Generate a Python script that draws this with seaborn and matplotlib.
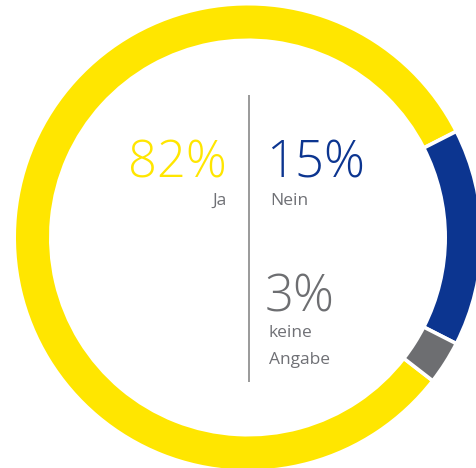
import matplotlib
matplotlib.use("Agg")
import matplotlib.pyplot as plt
import seaborn as sns

# survey answers (percent)
labels = ["Ja", "Nein", "keine\nAngabe"]
values = [82, 15, 3]
colors = ["#FFE600", "#0C3590", "#6D6E71"]
label_grey = "#6F7075"

sns.set_theme(style="white")
plt.rcParams['font.family'] = ['Open Sans', 'DejaVu Sans']

W, H = 476, 468
cx, cy = 248, 237.5          # ring centre, pixels from top-left
r_out, r_in = 232, 199
lw = 2.6                     # white gap between segments (pt)
pad = lw * 100 / 72 / 2


def pos(x, y):
    # pixel position -> data coordinates (centre of ring = 0, 0)
    return x - cx, cy - y


fig = plt.figure(figsize=(W / 100, H / 100), dpi=100)
ax = fig.add_axes([0, 0, 1, 1])

# keep "Nein" centred on the right-hand side
start = 360 * (values[1] / 2 + values[0]) / sum(values)
ax.pie(values, colors=colors, radius=r_out + pad, startangle=start,
       counterclock=False,
       wedgeprops=dict(width=r_out - r_in + 2 * pad, edgecolor="white",
                       linewidth=lw))

ax.set_xlim(-cx, W - cx)
ax.set_ylim(cy - H, cy)
ax.set_aspect("equal")
ax.axis("off")

# divider
x0, y0 = pos(249, 95)
x1, y1 = pos(249, 382)
ax.plot([x0, x1], [y0, y1], color="#9A9A9A", lw=1.4, solid_capstyle="butt")

big = dict(fontsize=36.5, fontweight="light", va="baseline")
small = dict(fontsize=12.5, color=label_grey, va="baseline")

ax.text(*pos(227, 178), f"{values[0]}%", color=colors[0], ha="right", **big)
ax.text(*pos(227, 205), labels[0], ha="right", **small)

ax.text(*pos(266, 178), f"{values[1]}%", color=colors[1], ha="left", **big)
ax.text(*pos(270, 205), labels[1], ha="left", **small)

ax.text(*pos(265, 312), f"{values[2]}%", color=colors[2], ha="left", **big)
for i, line in enumerate(labels[2].split("\n")):
    ax.text(*pos(269, 337 + 27 * i), line, ha="left", **small)

fig.savefig("out.png", dpi=100)
